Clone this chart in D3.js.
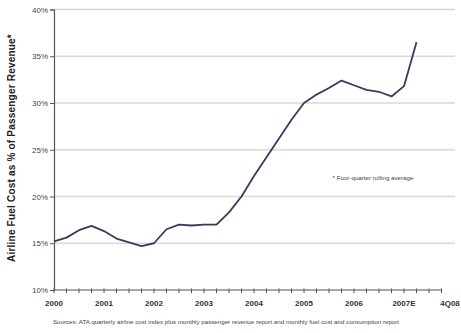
<!DOCTYPE html>
<html>
<head>
<meta charset="utf-8">
<script src="https://cdn.jsdelivr.net/npm/d3@7"></script>
<style>
  body { margin: 0; background: #fff; }
  svg { display: block; font-family: "Liberation Sans", Arial, sans-serif; }
</style>
</head>
<body>
<div class="display"></div>
<script>
const width = 461;
const height = 333;

// quarterly four-quarter rolling average, 2000 Q1 .. 2007 Q2
const quarters = d3.range(2000, 2007.5, 0.25);
const fuelShare = [
  15.2, 15.6, 16.4, 16.85,
  16.3, 15.5, 15.1, 14.7,
  15.0, 16.5, 17.0, 16.9,
  17.0, 17.0, 18.3, 20.0,
  22.2, 24.2, 26.2, 28.2,
  30.0, 30.9, 31.6, 32.4,
  31.9, 31.4, 31.2, 30.7,
  31.8, 36.5
];
const yearTicks = [2000, 2001, 2002, 2003, 2004, 2005, 2006, 2007, 2008];
const yearLabels = ['2000', '2001', '2002', '2003', '2004', '2005', '2006', '2007E', '4Q08'];
const percentTicks = [10, 15, 20, 25, 30, 35, 40];

const dataset = quarters.map((q, i) => ({q, v: fuelShare[i]}));

const svg = d3.select('.display')
  .append('svg')
  .attr('width', width)
  .attr('height', height);

const xScale = d3.scaleLinear().domain([2000, 2008]).range([54, 454]);
const yScale = d3.scaleLinear().domain([10, 40]).range([290, 9.5]);

// gridlines
svg.append('g')
  .selectAll('line')
  .data(percentTicks.slice(1))
  .enter()
  .append('line')
  .attr('x1', xScale(2000))
  .attr('x2', xScale(2008) + 1)
  .attr('y1', d => yScale(d))
  .attr('y2', d => yScale(d))
  .attr('stroke', '#d9d9d9')
  .attr('stroke-width', 1.5);

// y axis
const yAxis = d3.axisLeft(yScale)
  .tickValues(percentTicks)
  .tickFormat(d => d + '%')
  .tickSize(4)
  .tickPadding(2);

const gy = svg.append('g')
  .attr('transform', `translate(${xScale(2000)}, 0)`)
  .call(yAxis);
gy.select('.domain').attr('stroke', '#555').attr('stroke-width', 1.2);
gy.selectAll('.tick line').attr('stroke', '#555');
gy.selectAll('.tick text')
  .attr('fill', '#444')
  .style('font-size', '8px');

// x axis: quarter ticks, year labels
const quarterTicks = d3.range(2000, 2008, 0.25);
const gx = svg.append('g')
  .attr('transform', `translate(0, ${yScale(10)})`);
gx.append('line')
  .attr('x1', xScale(2000))
  .attr('x2', xScale(2007.75))
  .attr('stroke', '#555')
  .attr('stroke-width', 1.2);
gx.selectAll('.qtick')
  .data(quarterTicks)
  .enter()
  .append('line')
  .attr('class', 'qtick')
  .attr('x1', d => xScale(d))
  .attr('x2', d => xScale(d))
  .attr('y1', -1.5)
  .attr('y2', 3)
  .attr('stroke', '#555');
gx.selectAll('.ylabel')
  .data(yearTicks)
  .enter()
  .append('text')
  .attr('class', 'ylabel')
  .attr('x', d => d === 2008 ? xScale(d) - 4 : xScale(d))
  .attr('y', 16)
  .attr('text-anchor', 'middle')
  .attr('fill', '#333')
  .style('font-size', '8px')
  .style('font-weight', 'bold')
  .text((d, i) => yearLabels[i]);

// line
const line = d3.line()
  .x(d => xScale(d.q))
  .y(d => yScale(d.v));

svg.append('path')
  .datum(dataset)
  .attr('d', line)
  .attr('fill', 'none')
  .attr('stroke', '#3a3a5e')
  .attr('stroke-width', 1.8)
  .attr('stroke-linejoin', 'round');

// y axis title
svg.append('text')
  .attr('transform', `translate(15, 148) rotate(-90)`)
  .attr('text-anchor', 'middle')
  .attr('fill', '#222')
  .style('font-size', '10px')
  .style('font-weight', 'bold')
  .style('letter-spacing', '0.2px')
  .text('Airline Fuel Cost as % of Passenger Revenue*');

// footnote
svg.append('text')
  .attr('x', 373)
  .attr('y', 180)
  .attr('text-anchor', 'middle')
  .attr('fill', '#444')
  .style('font-size', '6.2px')
  .text('* Four-quarter rolling average');

svg.append('text')
  .attr('x', 226)
  .attr('y', 324)
  .attr('text-anchor', 'middle')
  .attr('fill', '#444')
  .style('font-size', '6.2px')
  .text('Sources: ATA quarterly airline cost index plus monthly passenger revenue report and monthly fuel cost and consumption report');
</script>
</body>
</html>
